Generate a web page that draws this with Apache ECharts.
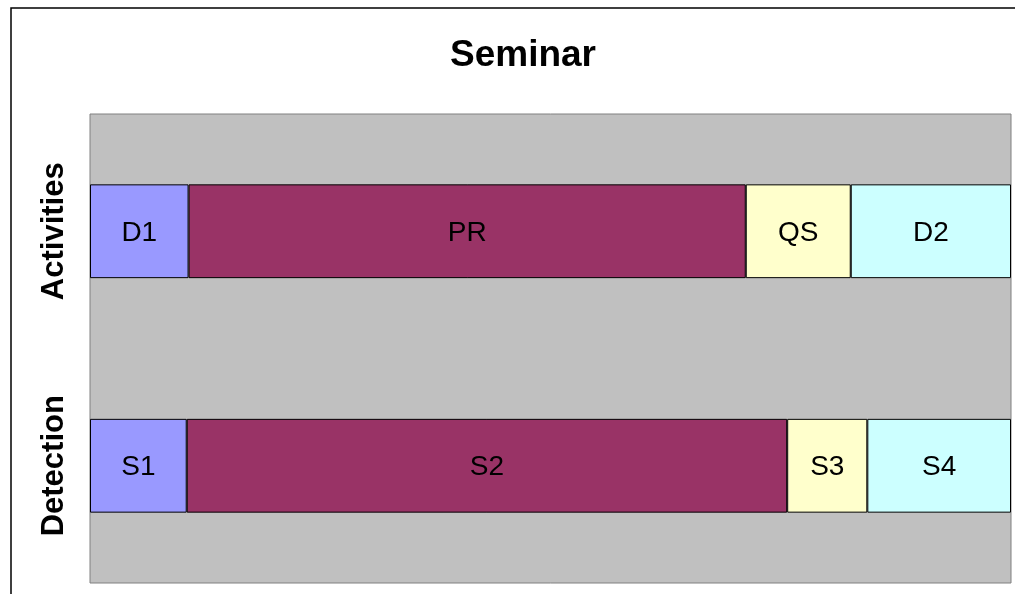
<!DOCTYPE html>
<html>
<head>
<meta charset="utf-8">
<script src="https://cdn.jsdelivr.net/npm/echarts@6/dist/echarts.min.js"></script>
<style>
  html, body { margin: 0; padding: 0; background: #fff; }
  #chart { width: 1015px; height: 594px; }
</style>
</head>
<body>
<div id="chart"></div>
<script>
  // rows, bottom to top
  const categories = ['Detection', 'Activities'];
  // segment labels per row
  const detectionNames = ['S1', 'S2', 'S3', 'S4'];
  const activityNames = ['D1', 'PR', 'QS', 'D2'];
  // segment lengths (share of the seminar, %)
  const detectionValues = [10.5, 65.2, 8.7, 15.6];
  const activityValues = [10.7, 60.5, 11.4, 17.4];
  const segmentColors = ['#9999FF', '#993366', '#FFFFCC', '#CCFFFF'];

  let chart = echarts.init(document.getElementById('chart'));
  let rowNames = [detectionNames, activityNames];

  let series = [];
  for (let i = 0; i < 4; i++) {
    series.push({
      type: 'bar',
      stack: 'seminar',
      name: 'seg' + i,
      barWidth: '40%',
      data: [detectionValues[i], activityValues[i]],
      itemStyle: {
        color: segmentColors[i],
        borderColor: '#000',
        borderWidth: 1
      },
      label: {
        show: true,
        position: 'inside',
        color: '#000',
        fontFamily: 'Liberation Sans',
        fontSize: 28,
        offset: [0, 2],
        formatter: function (p) {
          return rowNames[p.dataIndex][i];
        }
      },
      emphasis: { disabled: true }
    });
  }

  let option = {
    animation: false,
    title: {
      text: 'Seminar',
      left: 518,
      top: 32,
      textAlign: 'center',
      textStyle: {
        fontFamily: 'Liberation Sans',
        fontWeight: 'bold',
        fontSize: 37,
        color: '#000'
      }
    },
    graphic: [{
      type: 'rect',
      shape: { x: 11, y: 8, width: 1100, height: 700 },
      style: { fill: 'none', stroke: '#000', lineWidth: 1.5 },
      z: -1
    }],
    grid: {
      left: 90,
      top: 114,
      right: 4,
      bottom: 11,
      show: true,
      backgroundColor: '#C0C0C0',
      borderColor: '#808080',
      borderWidth: 1
    },
    xAxis: {
      type: 'value',
      min: 0,
      max: 100,
      show: false
    },
    yAxis: {
      type: 'category',
      data: categories,
      axisLine: { show: false },
      axisTick: { show: false },
      axisLabel: {
        rotate: 90,
        margin: 20,
        fontFamily: 'Liberation Sans',
        fontWeight: 'bold',
        fontSize: 31,
        color: '#000'
      }
    },
    series: series
  };
  chart.setOption(option);
</script>
</body>
</html>
